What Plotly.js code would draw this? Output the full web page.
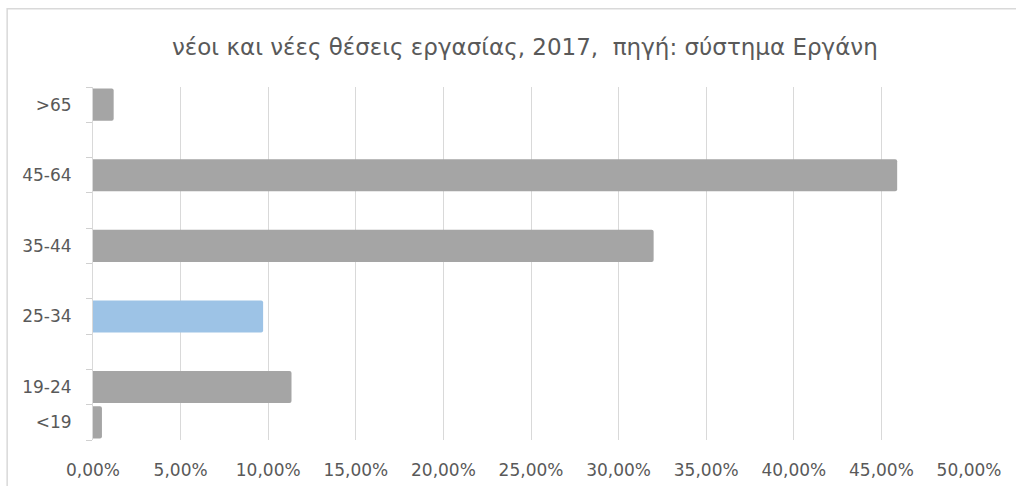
<!DOCTYPE html>
<html>
<head>
<meta charset="utf-8">
<script src="https://cdn.plot.ly/plotly-3.0.1.min.js"></script>
<style>html,body{margin:0;padding:0;background:#fff;}#chart{width:1016px;height:486px;}</style>
</head>
<body>
<div id="chart"></div>
<script>
// Age groups, bottom to top; blank-named slots are the empty rows of the original sheet
const categories = ['<19', '19-24', ' ', '25-34', '  ', '35-44', '   ', '45-64', '    ', '>65'];
// Share of new jobs (%) for each slot; null = empty slot
const shares = [0.51, 11.33, null, 9.71, null, 32.0, null, 45.9, null, 1.18];
const highlighted = '25-34';
const xTicks = [0, 5, 10, 15, 20, 25, 30, 35, 40, 45, 50];
const xTickLabels = ['0,00%', '5,00%', '10,00%', '15,00%', '20,00%', '25,00%', '30,00%', '35,00%', '40,00%', '45,00%', '50,00%'];
const titleText = 'νέοι και νέες θέσεις εργασίας, 2017,  πηγή: σύστημα Εργάνη';

const barColors = categories.map(c => c === highlighted ? '#9DC3E6' : '#A5A5A5');
const textColor = '#595959';
const fontFamily = '"DejaVu Sans", sans-serif';

const trace = {
  type: 'bar',
  orientation: 'h',
  y: categories,
  x: shares,
  marker: { color: barColors, cornerradius: 2, line: { width: 0 } },
  hoverinfo: 'x+y'
};

const layout = {
  width: 1016,
  height: 486,
  margin: { l: 93, r: 47, t: 87, b: 46, pad: 0 },
  paper_bgcolor: '#ffffff',
  plot_bgcolor: '#ffffff',
  bargap: 0.09,
  showlegend: false,
  font: { family: fontFamily, color: textColor, size: 17 },
  title: {
    text: titleText,
    font: { family: fontFamily, size: 23, color: textColor },
    x: 0.493, xanchor: 'center', xref: 'paper',
    y: 0.903, yanchor: 'middle', yref: 'container'
  },
  xaxis: {
    range: [0, 50],
    tickmode: 'array',
    tickvals: xTicks,
    ticktext: xTickLabels,
    showgrid: true,
    gridcolor: '#D9D9D9',
    gridwidth: 1,
    zeroline: false,
    showline: false,
    ticks: '',
    ticklabelstandoff: 18,
    tickfont: { family: fontFamily, size: 17, color: textColor },
    fixedrange: true
  },
  yaxis: {
    type: 'category',
    categoryorder: 'array',
    categoryarray: categories,
    tickson: 'boundaries',
    ticks: 'outside',
    ticklen: 6,
    tickcolor: '#D0D0D0',
    tickwidth: 1,
    showline: true,
    linecolor: '#D9D9D9',
    linewidth: 1,
    showgrid: false,
    zeroline: false,
    ticklabelstandoff: 17,
    tickfont: { family: fontFamily, size: 17, color: textColor },
    fixedrange: true
  },
  shapes: [{
    type: 'rect', xref: 'paper', yref: 'paper',
    x0: -0.098, x1: 1.2, y0: -0.3, y1: 1.222,
    line: { color: '#D9D9D9', width: 1.5 },
    fillcolor: 'rgba(0,0,0,0)',
    layer: 'below'
  }]
};

Plotly.newPlot('chart', [trace], layout, { displayModeBar: false, staticPlot: true });
</script>
</body>
</html>
